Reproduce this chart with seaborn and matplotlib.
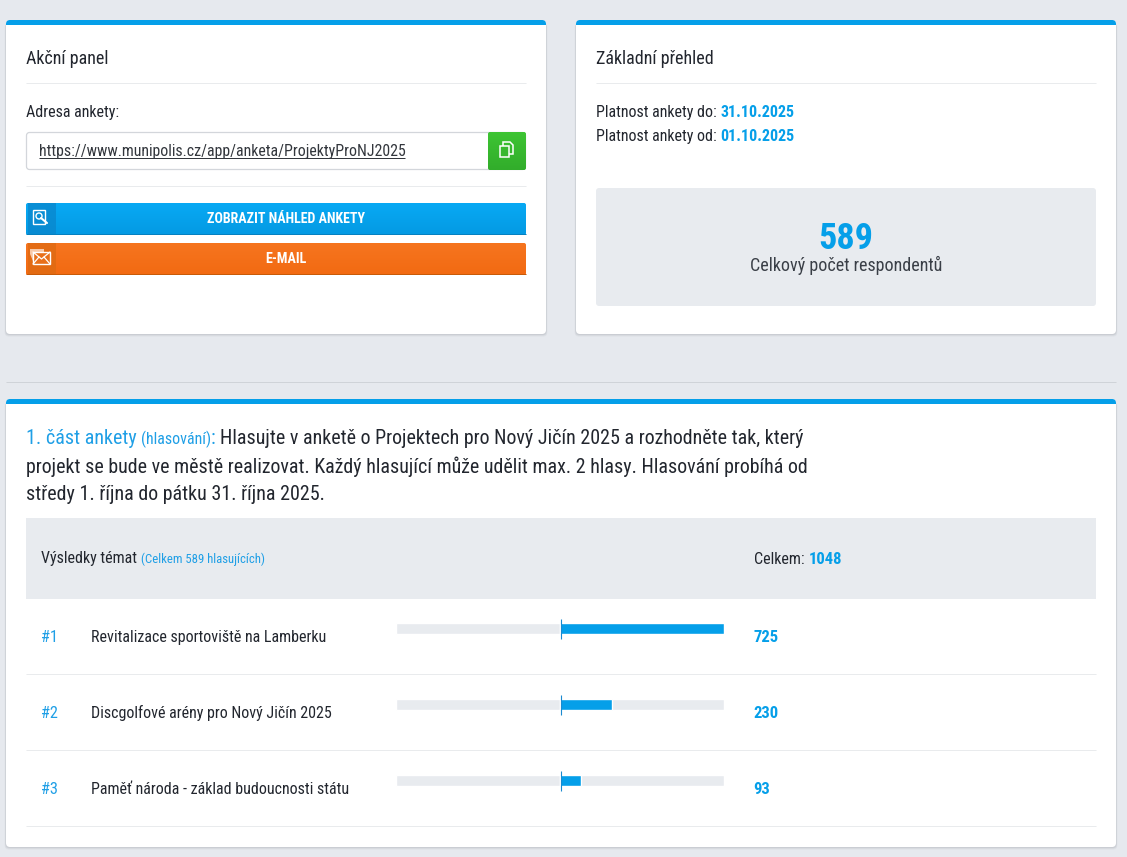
import matplotlib
matplotlib.use('Agg')
import matplotlib.pyplot as plt
import numpy as np
import seaborn as sns
import pandas as pd
from matplotlib.patches import FancyBboxPatch, Rectangle, Polygon

topics = ['Revitalizace sportoviště na Lamberku', 'Discgolfové arény pro Nový Jičín 2025', 'Paměť národa - základ budoucnosti státu']
ranks = ['#1', '#2', '#3']
votes = [725, 230, 93]
total_votes = 1048
respondents = 589

BLUE = '#059fe9'
GREY = '#e8ebef'
PAGE = '#e6e9ee'
DARK = '#22262e'
LINE = '#e9ebed'
LIGHT_BLUE = '#1f9fe6'

sns.set_style('white')
plt.rcParams['font.family'] = ['Roboto Condensed']

W, H = 1127, 857
fig = plt.figure(figsize=(W / 100, H / 100), dpi=100, facecolor=PAGE)
ax = fig.add_axes([0, 0, 1, 1])
ax.set_xlim(0, W)
ax.set_ylim(H, 0)
ax.axis('off')


def card(x0, y0, x1, y1):
    # soft shadow, blue top, white body
    for grow, a in [(2.5, .25), (1.5, .45), (.7, .7)]:
        ax.add_patch(FancyBboxPatch((x0 - grow / 2, y0 + 3), x1 - x0 + grow, y1 - y0 - 3 + grow, boxstyle='round,pad=0,rounding_size=4',
                                    fc='#c3c7cd', ec='none', alpha=a, zorder=1))
    ax.add_patch(FancyBboxPatch((x0, y0), x1 - x0, y1 - y0, boxstyle='round,pad=0,rounding_size=4', fc='white', ec='none', zorder=2))
    ax.add_patch(FancyBboxPatch((x0, y0), x1 - x0, 10, boxstyle='round,pad=0,rounding_size=4', fc=BLUE, ec='none', zorder=2))
    ax.add_patch(Rectangle((x0, y0 + 5), x1 - x0, 8, fc='white', ec='none', zorder=2))


def txt(x, y, s, size=11.52, color=DARK, weight='normal', ha='left', **kw):
    return ax.text(x, y, s, fontsize=size, color=color, fontweight=weight, ha=ha, va='center', zorder=5, **kw)


def hline(x0, x1, y, color=LINE):
    ax.plot([x0, x1], [y, y], color=color, lw=.72, zorder=3, solid_capstyle='butt')


def gradient(x0, y0, x1, y1, top, bottom):
    # vertical gradient clipped to a rounded box
    box = FancyBboxPatch((x0, y0), x1 - x0, y1 - y0, boxstyle='round,pad=0,rounding_size=2', fc='none', ec='none', zorder=3)
    ax.add_patch(box)
    cmap = matplotlib.colors.LinearSegmentedColormap.from_list('g', [top, bottom])
    im = ax.imshow(np.linspace(0, 1, 32)[:, None], cmap=cmap, extent=(x0, x1, y1, y0), aspect='auto', zorder=3)
    im.set_clip_path(box)


def button(y0, y1, top, bottom, c_dark, c_edge, label, text_y):
    gradient(26, y0, 526, y1, top, bottom)
    ax.add_patch(Rectangle((28, y0), 28, y1 - y0 - 1, fc=c_dark, ec='none', alpha=.75, zorder=3))
    hline(26, 526, y1 - 1, c_edge)
    txt(286, text_y, label, 10.08, 'white', 'bold', ha='center')


card(6, 20, 546, 334)
card(576, 20, 1116, 334)
hline(6, 1116, 382, '#cfd3d8')
card(6, 399, 1116, 847)

# left card
txt(26, 58.5, 'Akční panel', 12.96)
hline(26, 526, 83)
txt(26, 112, 'Adresa ankety:')
ax.add_patch(FancyBboxPatch((26.5, 132.5), 499, 37, boxstyle='round,pad=0,rounding_size=3', fc='white', ec='#d3d6db', lw=.9, zorder=3))
gradient(488, 132, 526, 170, '#3dc433', '#32ad2b')
ax.add_patch(Polygon([(503, 142), (510, 142), (513, 145), (513, 154), (503, 154)], fc='none', ec='white', lw=1.1, zorder=4))
ax.add_patch(Rectangle((499.5, 145.5), 9, 11, fc='#38b82f', ec='white', lw=1.1, zorder=4))
txt(39, 151.5, 'https://www.munipolis.cz/app/anketa/ProjektyProNJ2025', 11.44, color='#33373d')
hline(39, 405, 158, '#33373d')
hline(26, 526, 186)
button(203, 235, '#08a9f4', '#049ae3', '#0a86cc', '#0580c0', 'ZOBRAZIT NÁHLED ANKETY', 218.5)
button(243, 275, '#f6751f', '#f26a12', '#dd6a12', '#c85a08', 'E-MAIL', 259)
# button icons
ax.add_patch(Rectangle((33, 210), 12, 14, fc='none', ec='white', lw=1, zorder=4))
ax.add_patch(plt.Circle((39, 216), 3, fc='none', ec='white', lw=1, zorder=4))
ax.plot([41, 47], [218, 223], color='white', lw=1.5, zorder=4)
ax.add_patch(Polygon([(30, 249), (44, 249), (44, 252), (33, 252), (33, 261), (30, 254)], fc='#f8c9a8', ec='none', zorder=4))
ax.add_patch(Rectangle((33, 252), 17, 12, fc='#e8701a', ec='white', lw=1, zorder=4))
ax.plot([33, 41.5, 50], [252, 259, 252], color='white', lw=.9, zorder=4)
ax.plot([33, 39], [264, 257], color='white', lw=.9, zorder=4)
ax.plot([50, 44], [264, 257], color='white', lw=.9, zorder=4)

# right card
txt(595.6, 58.5, 'Základní přehled', 12.96)
hline(596, 1096, 83)
txt(595.6, 112, 'Platnost ankety do:')
txt(720.3, 112, '31.10.2025', color=BLUE, weight='bold')
txt(595.6, 136, 'Platnost ankety od:')
txt(720.3, 136, '01.10.2025', color=BLUE, weight='bold')
ax.add_patch(FancyBboxPatch((596, 188), 500, 118, boxstyle='round,pad=0,rounding_size=3', fc=GREY, ec='none', zorder=3))
txt(846, 239, str(respondents), 26, BLUE, 'bold', ha='center')
txt(846, 265, 'Celkový počet respondentů', 12.96, '#3a3f47', ha='center')

# bottom card
txt(26, 438.2, '1. část ankety', 14.4, LIGHT_BLUE)
txt(141, 439, '(hlasování)', 11.52, LIGHT_BLUE)
txt(211, 438.2, ':', 14.4, LIGHT_BLUE)
txt(220, 438.2, 'Hlasujte v anketě o Projektech pro Nový Jičín 2025 a rozhodněte tak, který', 14.4)
txt(26, 466.5, 'projekt se bude ve městě realizovat. Každý hlasující může udělit max. 2 hlasy. Hlasování probíhá od', 14.36)
txt(26, 494.5, 'středy 1. října do pátku 31. října 2025.', 14.4)

ax.add_patch(Rectangle((26, 518), 1070, 81, fc=GREY, ec='none', zorder=3))
txt(41, 559, 'Výsledky témat')
txt(141, 559, '(Celkem 589 hlasujících)', 9.2, LIGHT_BLUE)
txt(754, 559, 'Celkem:')
txt(808.5, 559, str(total_votes), 12, BLUE, 'bold')

row_y = [637.6, 713, 789]
for y, r, t, v in zip(row_y, ranks, topics, votes):
    txt(41, y, r, 11.8, LIGHT_BLUE)
    txt(91, y, t)
    txt(753.5, y, str(v), 12, BLUE, 'bold')
for y in [674, 750, 826]:
    hline(26, 1096, y)

# diverging bars, centre tick at zero
bar_ax = fig.add_axes([396.2 / W, 1 - 818.7 / H, 328 / W, 228 / H], facecolor='none')
df = pd.DataFrame({'topic': topics, 'votes': votes})
limit = max(votes)
bw = 10.6 / 76
sns.barplot(data=df, y='topic', x=[limit] * 3, color=GREY, width=bw, saturation=1, ax=bar_ax)
sns.barplot(data=df, y='topic', x=[-limit] * 3, color=GREY, width=bw, saturation=1, ax=bar_ax)
sns.barplot(data=df, y='topic', x='votes', color=BLUE, width=bw, saturation=1, ax=bar_ax)
bar_ax.vlines([3, 3, 3], [i - 10 / 76 for i in range(3)], [i + 10 / 76 for i in range(3)], color='#1a8ad0', lw=.8)
bar_ax.set_xlim(-limit, limit)
bar_ax.set_ylim(2.5, -.5)
bar_ax.axis('off')

ax.set_xlim(0, W)
ax.set_ylim(H, 0)
fig.savefig('out.png', dpi=100, facecolor=PAGE)
